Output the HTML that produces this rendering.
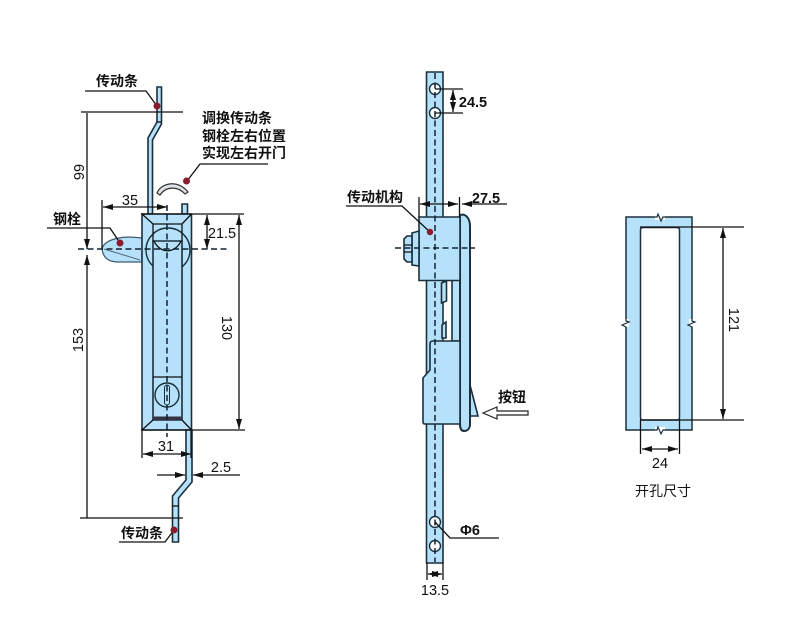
<!DOCTYPE html>
<html><head><meta charset="utf-8"><style>
html,body{margin:0;padding:0;background:#fff}
svg{display:block}
text{font-family:"Liberation Sans","Noto Sans CJK SC",sans-serif;fill:#111}
.c{font-size:14px;font-weight:bold}
.n{font-size:14.5px;text-anchor:middle}
.b{fill:#b5e2fa;stroke:#1c2f3c;stroke-width:1.6}
.l{fill:none;stroke:#111;stroke-width:1.3}
.d{fill:none;stroke:#123;stroke-width:1.5;stroke-dasharray:6 3.5}
.t{fill:#8a1c30}
</style></head><body>
<svg width="790" height="630" viewBox="0 0 790 630" xmlns="http://www.w3.org/2000/svg">
<defs>
<marker id="a" viewBox="0 0 10 6" refX="10" refY="3" markerWidth="10" markerHeight="6" markerUnits="userSpaceOnUse" orient="auto-start-reverse"><path d="M0 0L10 3L0 6z" fill="#111"/></marker>
</defs>

<!-- LEFT VIEW -->
<path class="b" d="M157 87H161.5V124L152.5 140V214H148V138L157 122z"/>
<path class="l" d="M157 122H161.5"/>
<path class="b" d="M182 204H187.5V214H182z"/>
<path d="M157 193C161 183 178 179 188 192L185 194C178 186 166 186 160 195z" fill="#dde3e6" stroke="#333" stroke-width="1.2"/>
<path d="M142 238C120 235 104 240 102 249C103 257 108 262 118 262H142z" fill="#b5e2fa" stroke="#3f5a6c" stroke-width="1.2"/>
<path d="M104 249L140 260" stroke="#567" fill="none"/>
<path class="b" d="M142 214H191.5V430H142z"/>
<circle cx="168" cy="250" r="22" fill="none" stroke="#1c2f3c" stroke-width="1.4"/>
<path class="l" d="M142 214L153 224H182L191.5 214"/>
<path class="b" d="M153 241H182V420H153z"/>
<path class="l" d="M153 224V241M182 224V241"/>
<path class="l" d="M154 241C160 254 175 254 181 241"/>
<path class="l" d="M153 377H182"/>
<circle cx="167" cy="395" r="12" fill="none" stroke="#1c2f3c" stroke-width="1.4"/>
<rect x="164.5" y="385" width="5" height="20" rx="2.5" fill="none" stroke="#1c2f3c"/>
<rect x="153" y="416.5" width="29" height="3.5" fill="#334"/>
<path class="l" d="M153 420L142 430M182 420L191.5 430"/>
<path class="b" d="M186 430H192V482L178.5 498V542H172.5V496L186 480z"/>
<path class="l" d="M172.5 506H178.5"/>
<path class="d" d="M167 205V437M78 249H228"/>

<path class="l" d="M81 112H183M80 518H183M141 214H244M141 430H245"/>
<path class="l" marker-end="url(#a)" d="M87 113V249"/>
<path class="l" marker-start="url(#a)" d="M87 255V518"/>
<path class="l" d="M102 200V249M142 430V458M191 430V458"/>
<path class="l" marker-start="url(#a)" marker-end="url(#a)" d="M103 207H167"/>
<path class="l" marker-start="url(#a)" marker-end="url(#a)" d="M207 215V249"/>
<path class="l" marker-start="url(#a)" marker-end="url(#a)" d="M239 215V429"/>
<path class="l" marker-start="url(#a)" marker-end="url(#a)" d="M143 454H191"/>
<path class="l" marker-end="url(#a)" d="M157 475H185"/>
<path class="l" marker-end="url(#a)" d="M240 475H193"/>
<path class="l" d="M85 91H146L157 106M47 228H110L120 243M187 181L200 164H268M119 542H165L174 530"/>
<circle class="t" cx="157" cy="106" r="3.5"/>
<circle class="t" cx="120" cy="243" r="3.5"/>
<circle class="t" cx="186.5" cy="181" r="3.5"/>
<circle class="t" cx="174" cy="530" r="3.5"/>

<text class="c" x="96" y="86">传动条</text>
<text class="c" x="53" y="224">钢栓</text>
<text class="c" x="202" y="123">调换传动条</text>
<text class="c" x="202" y="141">钢栓左右位置</text>
<text class="c" x="202" y="158">实现左右开门</text>
<text class="c" x="121" y="538">传动条</text>
<text class="n" x="130" y="205">35</text>
<text class="n" x="222" y="238">21.5</text>
<text class="n" x="166" y="451">31</text>
<text class="n" x="221" y="472">2.5</text>
<text class="n" transform="translate(84,172) rotate(-90)">99</text>
<text class="n" transform="translate(83,340) rotate(-90)">153</text>
<text class="n" transform="translate(222,328) rotate(90)">130</text>

<!-- MIDDLE VIEW -->
<path class="b" d="M426.5 72H443V563H426.5z"/>
<circle cx="435" cy="89" r="5.5" fill="#fff" stroke="#1c2f3c" stroke-width="1.4"/>
<circle cx="435" cy="113" r="5.5" fill="#fff" stroke="#1c2f3c" stroke-width="1.4"/>
<circle cx="435" cy="522" r="5.5" fill="#fff" stroke="#1c2f3c" stroke-width="1.4"/>
<circle cx="435" cy="546" r="5.5" fill="#fff" stroke="#1c2f3c" stroke-width="1.4"/>
<path class="b" d="M452 280H460V341H452z"/>
<path class="b" d="M441.5 283L446.5 281V301L441.5 303z" stroke-width="1.2"/>
<path class="b" d="M442 325L446 322V338H442z" stroke-width="1.2"/>
<path class="b" d="M470 385L478 416H470z"/>
<path d="M460 215C466 213 470 219 470 226V424C470 428 468 431 464 431C461 431 460 428 460 424z" fill="#b5e2fa" stroke="#1c2f3c" stroke-width="2"/>
<path class="b" d="M419 217H460V280.5H419z"/>
<path class="b" d="M412 233L419 231V266L412 265z"/>
<path class="b" d="M404 239L407 236H412V262H407L404 259z"/>
<path class="l" d="M404 245H412M404 252H412"/>
<path class="b" d="M433 341H460V424H425Q423 424 423 422V378L430 370V344Q430 341 433 341z"/>
<path class="d" d="M435 73V562M395 248H475"/>
<path class="l" d="M435 89H463M435 113H463M419 197V217M459.5 197V217M427 563V580M443 563V580"/>
<path class="l" marker-start="url(#a)" marker-end="url(#a)" d="M453 90V112"/>
<path class="l" marker-start="url(#a)" marker-end="url(#a)" d="M420 204H458"/>
<path class="l" marker-end="url(#a)" d="M507 204H462"/>
<path class="l" marker-start="url(#a)" marker-end="url(#a)" d="M428 574H442"/>
<path class="l" d="M346 206H402L430 232M435 522L450 538H499"/>
<circle class="t" cx="430" cy="232" r="3.2"/>
<path d="M483 413L497 407V411H528V415H497V419z" fill="#fff" stroke="#222" stroke-width="1.2"/>
<text class="c" x="347" y="202">传动机构</text>
<text class="c" x="498" y="402">按钮</text>
<text class="n" x="486" y="203" font-weight="bold">27.5</text>
<text class="n" x="473" y="107" font-weight="bold">24.5</text>
<text class="n" x="470" y="535" font-weight="bold">Φ6</text>
<text class="n" x="435" y="595">13.5</text>

<!-- RIGHT VIEW -->
<path fill-rule="evenodd" d="M626 217H692V430H626zM643 227.5H677Q679.5 227.5 679.5 230V417.5Q679.5 420 677 420H643Q640.5 420 640.5 417.5V230Q640.5 227.5 643 227.5z" fill="#b5e2fa" stroke="#1c2f3c" stroke-width="1.5"/>
<!-- break marks -->
<path d="M655 214H665V220H655zM655 427H665V433H655zM623 319H629V327H623zM689 319H695V327H689z" fill="#fff" stroke="none"/>
<path d="M655 217H657L658 214L661 221L663 217H665M655 430H657L658 427L661 434L663 430H665M626 319V321L629 322L622 325L626 327V329M692 319V321L695 322L688 325L692 327V329" fill="none" stroke="#1c2f3c" stroke-width="1.2"/>
<path class="l" d="M640 227H744M640 420H744M640.5 420V454M679.5 420V454"/>
<path class="l" marker-start="url(#a)" marker-end="url(#a)" d="M723 228V419"/>
<path class="l" marker-start="url(#a)" marker-end="url(#a)" d="M642 449H678"/>
<text class="n" transform="translate(729,320) rotate(90)">121</text>
<text class="n" x="660" y="468">24</text>
<text x="635" y="496" style="font-size:14px">开孔尺寸</text>
</svg>
</body></html>
